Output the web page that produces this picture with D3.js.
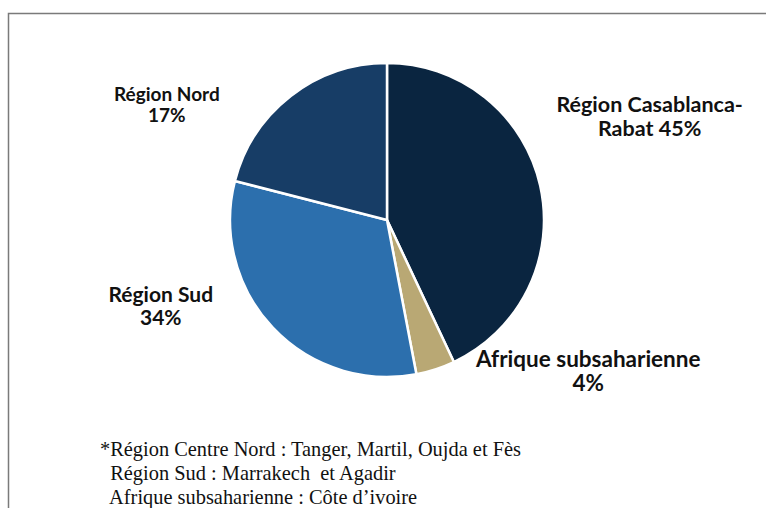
<!DOCTYPE html>
<html>
<head>
<meta charset="utf-8">
<script src="https://cdn.jsdelivr.net/npm/d3@7"></script>
<style>
  body { margin: 0; background: #fff; }
  svg { display: block; }
</style>
</head>
<body>
<div id="chart"></div>
<script>
// slice data, clockwise from 12 o'clock
const regions = ["Région Casablanca-Rabat", "Afrique subsaharienne", "Région Sud", "Région Nord"];
const shares = [43, 4, 32, 21];            // slice sizes as drawn
const shareLabels = ["45%", "4%", "34%", "17%"]; // percentages as printed
const labelLines = [
  ["Région Casablanca-", "Rabat 45%"],
  ["Afrique subsaharienne", "4%"],
  ["Région Sud", "34%"],
  ["Région Nord", "17%"]
];
const notes = [
  "*Région Centre Nord : Tanger, Martil, Oujda et Fès",
  "  Région Sud : Marrakech  et Agadir",
  "  Afrique subsaharienne : Côte d’ivoire"
];

const W = 766, H = 508;
const cx = 387, cy = 220, radius = 157;

const colors = ["#0a2540", "#b9a874", "#2c6fad", "#173d66"];
// label placement relative to the slice centroid, plus font size
const labelStyle = [
  {dx: 186, dy: -91, size: 21.5},
  {dx: 177, dy: 72, size: 22.5},
  {dx: -169, dy: 28, size: 21},
  {dx: -172, dy: -57, size: 19}
];

const svg = d3.select("#chart").append("svg")
  .attr("width", W)
  .attr("height", H);

// frame (top and left edges only are visible)
svg.append("path")
  .attr("d", "M8.5,508 V13.5 H766")
  .attr("fill", "none")
  .attr("stroke", "#7a7a7a")
  .attr("stroke-width", 1.5);

const data = regions.map((r, i) => ({region: r, value: shares[i], label: shareLabels[i], i: i}));

const pie = d3.pie().sort(null).value(d => d.value);
const arc = d3.arc().innerRadius(0).outerRadius(radius);
const arcs = pie(data);

const g = svg.append("g").attr("transform", `translate(${cx},${cy})`);

g.selectAll("path.slice")
  .data(arcs)
  .enter().append("path")
  .attr("class", "slice")
  .attr("d", arc)
  .attr("fill", d => colors[d.data.i])
  .attr("stroke", "#fff")
  .attr("stroke-width", 2.5)
  .attr("stroke-linejoin", "round");

// data labels
const labels = g.selectAll("text.lbl")
  .data(arcs)
  .enter().append("text")
  .attr("class", "lbl")
  .attr("text-anchor", "middle")
  .attr("font-family", "Lato, 'Open Sans', sans-serif")
  .attr("font-weight", "bold")
  .attr("font-size", d => labelStyle[d.data.i].size)
  .attr("fill", "#111")
  .attr("transform", d => {
    const c = arc.centroid(d), s = labelStyle[d.data.i];
    return `translate(${c[0] + s.dx},${c[1] + s.dy})`;
  });

labels.selectAll("tspan")
  .data(d => labelLines[d.data.i].map(t => ({t: t, size: labelStyle[d.data.i].size})))
  .enter().append("tspan")
  .attr("x", 0)
  .attr("dy", (d, k) => k === 0 ? 0 : d.size * 1.1)
  .text(d => d.t);

// footnote
svg.append("g")
  .selectAll("text")
  .data(notes)
  .enter().append("text")
  .attr("x", 100)
  .attr("y", (d, i) => 456 + i * 24)
  .attr("font-family", "'Liberation Serif', 'Times New Roman', serif")
  .attr("font-size", 20.4)
  .attr("fill", "#111")
  .style("white-space", "pre")
  .text(d => d);
</script>
</body>
</html>
